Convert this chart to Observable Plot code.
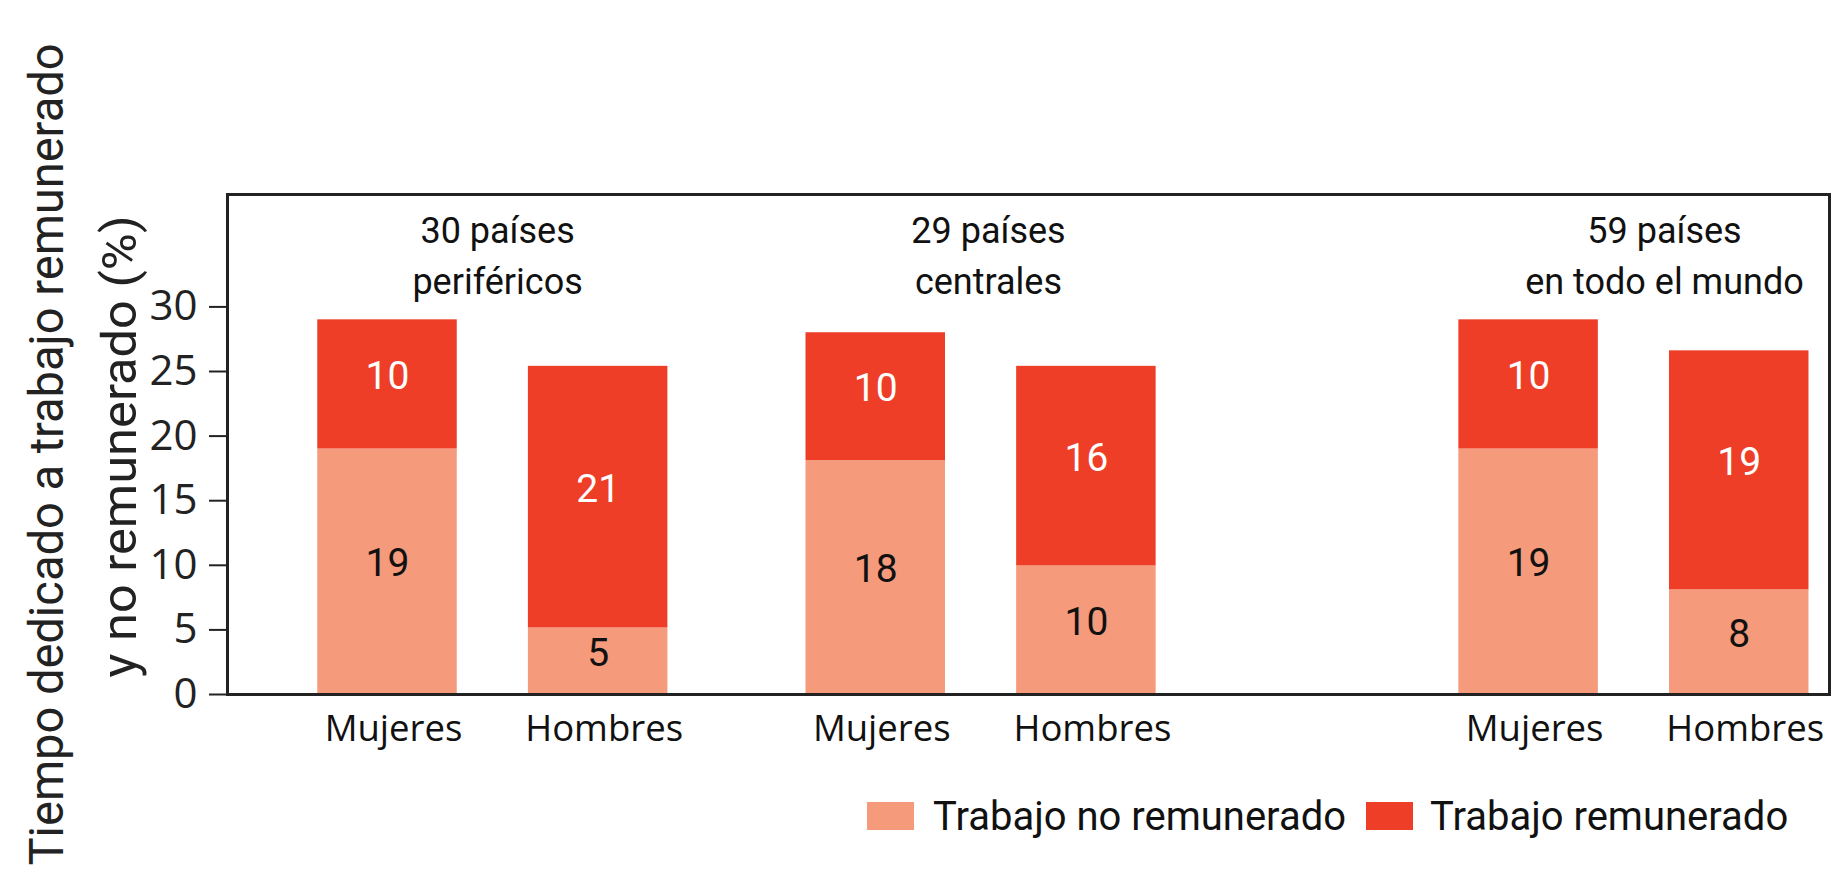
<!DOCTYPE html>
<html>
<head>
<meta charset="utf-8">
<script src="https://cdn.jsdelivr.net/npm/d3@7"></script>
<script src="https://cdn.jsdelivr.net/npm/@observablehq/plot@0.6"></script>
<style>
  html, body { margin: 0; padding: 0; background: #fff; }
  body { min-height: 891px; }
  #chart { position: relative; }
  #legend { display: flex; align-items: center; margin-left: 867px; margin-top: 22px; height: 48px;
            font-family: Roboto, "Noto Sans", sans-serif; font-size: 40px; color: #111; white-space: nowrap; }
  #legend .sw { width: 47px; height: 28px; display: inline-block; }
</style>
</head>
<body>
<div id="chart"></div>
<div id="legend"></div>
<script>
// ---- data ----
const groups = ["30 países\nperiféricos", "29 países\ncentrales", "59 países\nen todo el mundo"];
const sexes = ["Mujeres", "Hombres"];
const series = ["Trabajo no remunerado", "Trabajo remunerado"];
// bar segment heights as drawn (order: grupo1 M, H, grupo2 M, H, grupo3 M, H)
const unpaid = [19, 5.15, 18.1, 9.95, 19, 8.1];
const paid   = [10, 20.25, 9.9, 15.45, 10, 18.5];
// printed labels
const unpaidLabels = [19, 5, 18, 10, 19, 8];
const paidLabels   = [10, 21, 10, 16, 10, 19];
const yTicks = [0, 5, 10, 15, 20, 25, 30];
const yTitle = ["Tiempo dedicado a trabajo remunerado", "y no remunerado (%)"];

// ---- layout (not data) ----
const colors = ["#F59A7A", "#EE3E28"];
const layout = { groupStart: [0, 3.5, 8.18], sexStep: 1.51, titleShift: [0.034, 0.053, 0.219] };

const bars = [];
groups.forEach((g, gi) => sexes.forEach((s, si) => {
  bars.push({ group: gi, sex: s, pos: layout.groupStart[gi] + si * layout.sexStep, i: bars.length });
}));
const rows = [];
bars.forEach(b => {
  rows.push({ ...b, series: series[0], value: unpaid[b.i], label: unpaidLabels[b.i] });
  rows.push({ ...b, series: series[1], value: paid[b.i], label: paidLabels[b.i] });
});
const groupRows = groups.map((g, gi) => ({ title: g, x: layout.groupStart[gi] + layout.sexStep / 2 + layout.titleShift[gi] }));

const condensed = "Roboto, 'Noto Sans', sans-serif";
const wide = "'Open Sans', 'Noto Sans', sans-serif";

const labelOpts = s => Plot.filter(d => d.series === s,
  Plot.stackY({ x: "pos", y: "value", z: "series", text: "label",
    fill: s === series[0] ? "#111" : "#fff", fontSize: 39, fontFamily: condensed, dy: -8 }));

const chart = Plot.plot({
  width: 1832,
  height: 770,
  marginLeft: 227,
  marginRight: 3,
  marginTop: 194,
  marginBottom: 76,
  style: { overflow: "visible", color: "#222", background: "#fff" },
  x: { type: "linear", domain: [-1.147, 10.337], axis: null },
  y: { domain: [0, 38.7], axis: null },
  color: { domain: series, range: colors },
  marks: [
    Plot.rectY(rows, Plot.stackY({ x1: d => d.pos - 0.5, x2: d => d.pos + 0.5, y: "value", fill: "series" })),
    Plot.text(rows, labelOpts(series[0])),
    Plot.text(rows, labelOpts(series[1])),
    Plot.frame({ stroke: "#222", strokeWidth: 3 }),
    Plot.axisY({ ticks: yTicks, tickSize: 18, tickPadding: 12, fontSize: 42, fontFamily: wide, strokeWidth: 2, label: null }),
    Plot.text(bars, { x: "pos", text: "sex", frameAnchor: "bottom", dy: 35, dx: 6, lineAnchor: "middle",
      fontSize: 36.5, fontFamily: wide, fill: "#111" }),
    Plot.text(groupRows, { x: "x", text: "title", frameAnchor: "top", dy: 58, lineAnchor: "middle",
      lineHeight: 1.42, fontSize: 36, fontFamily: condensed, fill: "#111" }),
    Plot.text([yTitle[0]], { text: d => d, frameAnchor: "left", textAnchor: "middle", rotate: -90, dx: -180, dy: 10,
      lineAnchor: "middle", fontSize: 48, fontFamily: condensed, fill: "#222", className: "ytitle1" }),
    Plot.text([yTitle[1]], { text: d => d, frameAnchor: "left", textAnchor: "middle", rotate: -90, dx: -107, dy: 2,
      lineAnchor: "middle", fontSize: 48, fontFamily: condensed, fill: "#222", className: "ytitle2" })
  ]
});
// match the reference's condensed title widths
d3.select(chart).selectAll(".ytitle1 text").attr("textLength", 822).attr("lengthAdjust", "spacingAndGlyphs");
d3.select(chart).selectAll(".ytitle2 text").attr("textLength", 462).attr("lengthAdjust", "spacingAndGlyphs");
document.getElementById("chart").appendChild(chart);

const legend = document.getElementById("legend");
series.forEach((s, i) => {
  const sw = document.createElement("span");
  sw.className = "sw";
  sw.style.background = colors[i];
  sw.style.marginRight = i === 0 ? "19px" : "17px";
  const t = document.createElement("span");
  t.textContent = s;
  t.style.marginRight = i === 0 ? "20px" : "0";
  legend.appendChild(sw);
  legend.appendChild(t);
});
</script>
</body>
</html>
